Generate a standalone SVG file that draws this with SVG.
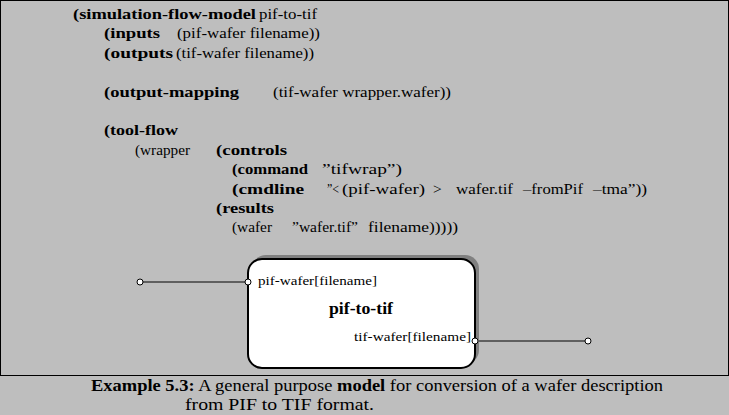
<svg xmlns="http://www.w3.org/2000/svg" width="729" height="415" viewBox="0 0 729 415">
<style>
text{font-family:"Liberation Serif","DejaVu Serif","Times New Roman",serif;fill:#000;}
.t{font-size:15.5px;}
.b{font-weight:bold;}
.cap{font-size:17px;}
.port{font-size:13px;}
.term{fill:#fff;stroke:#000;stroke-width:1;}
.wire{stroke:#000;stroke-width:1.2;fill:none;}
</style>
<rect x="0" y="0" width="729" height="415" fill="#bebebe"/>
<rect x="0.5" y="0.5" width="728" height="375" fill="none" stroke="#000" stroke-width="1"/>
<g id="listing" class="t">
<text y="19"><tspan class="b" x="73" textLength="183" lengthAdjust="spacingAndGlyphs">(simulation-flow-model</tspan><tspan x="259" textLength="58" lengthAdjust="spacingAndGlyphs">pif-to-tif</tspan></text>
<text y="38.4"><tspan class="b" x="104" textLength="56" lengthAdjust="spacingAndGlyphs">(inputs</tspan><tspan x="177" textLength="143" lengthAdjust="spacingAndGlyphs">(pif-wafer filename))</tspan></text>
<text y="57.8"><tspan class="b" x="104" textLength="69" lengthAdjust="spacingAndGlyphs">(outputs</tspan><tspan x="176" textLength="138" lengthAdjust="spacingAndGlyphs">(tif-wafer filename))</tspan></text>
<text y="96.6"><tspan class="b" x="104" textLength="135" lengthAdjust="spacingAndGlyphs">(output-mapping</tspan><tspan x="273" textLength="178" lengthAdjust="spacingAndGlyphs">(tif-wafer wrapper.wafer))</tspan></text>
<text y="135.4"><tspan class="b" x="104" textLength="74" lengthAdjust="spacingAndGlyphs">(tool-flow</tspan></text>
<text y="154.8"><tspan x="135" textLength="55" lengthAdjust="spacingAndGlyphs">(wrapper</tspan><tspan class="b" x="216" textLength="71" lengthAdjust="spacingAndGlyphs">(controls</tspan></text>
<text y="174.2"><tspan class="b" x="232" textLength="76" lengthAdjust="spacingAndGlyphs">(command</tspan><tspan x="322" textLength="80" lengthAdjust="spacingAndGlyphs">”tifwrap”)</tspan></text>
<text y="193.6"><tspan class="b" x="232" textLength="72" lengthAdjust="spacingAndGlyphs">(cmdline</tspan><tspan x="327" textLength="12" lengthAdjust="spacingAndGlyphs">”&lt;</tspan><tspan x="342" textLength="83" lengthAdjust="spacingAndGlyphs">(pif-wafer)</tspan><tspan x="433">&gt;</tspan><tspan x="456" textLength="57" lengthAdjust="spacingAndGlyphs">wafer.tif</tspan><tspan x="523" textLength="60" lengthAdjust="spacingAndGlyphs">–fromPif</tspan><tspan x="593" textLength="54" lengthAdjust="spacingAndGlyphs">–tma”))</tspan></text>
<text y="213"><tspan class="b" x="216" textLength="58" lengthAdjust="spacingAndGlyphs">(results</tspan></text>
<text y="232.4"><tspan x="232" textLength="40" lengthAdjust="spacingAndGlyphs">(wafer</tspan><tspan x="292" textLength="66" lengthAdjust="spacingAndGlyphs">”wafer.tif”</tspan><tspan x="368" textLength="90" lengthAdjust="spacingAndGlyphs">filename)))))</tspan></text>
</g>
<g id="connectors">
<line class="wire" x1="143" y1="282" x2="245" y2="282"/>
<line class="wire" x1="478" y1="341" x2="585" y2="341"/>
</g>
<g id="node-pif-to-tif">
<rect x="252" y="255" width="227" height="109" rx="14" fill="#808080"/>
<rect x="248" y="259" width="227" height="109" rx="14" fill="#fff" stroke="#000" stroke-width="2"/>
<text class="port" x="258" y="285" textLength="119" lengthAdjust="spacingAndGlyphs">pif-wafer[filename]</text>
<text class="b" x="329" y="314" font-size="17" textLength="64" lengthAdjust="spacingAndGlyphs">pif-to-tif</text>
<text class="port" x="354" y="341" textLength="117" lengthAdjust="spacingAndGlyphs">tif-wafer[filename]</text>
<circle class="term" cx="248" cy="282" r="3"/>
<circle class="term" cx="475" cy="341" r="3"/>
</g>
<g id="terminal-in"><circle class="term" cx="140" cy="282" r="3"/></g>
<g id="terminal-out"><circle class="term" cx="588" cy="341" r="3"/></g>
<g id="caption" class="cap">
<text x="91" y="391" textLength="572" lengthAdjust="spacingAndGlyphs"><tspan class="b">Example 5.3:</tspan> A general purpose <tspan class="b">model</tspan> for conversion of a wafer description</text>
<text x="185" y="410" textLength="189" lengthAdjust="spacingAndGlyphs">from PIF to TIF format.</text>
</g>
</svg>
